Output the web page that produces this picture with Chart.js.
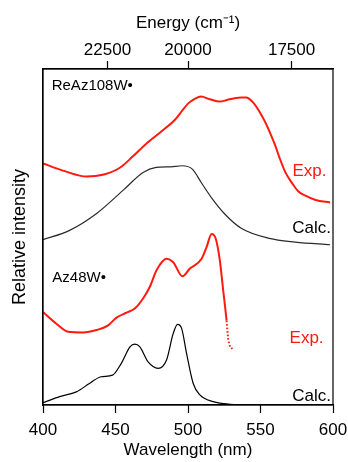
<!DOCTYPE html>
<html>
<head>
<meta charset="utf-8">
<script src="https://cdn.jsdelivr.net/npm/chart.js@4.4.1/dist/chart.umd.min.js"></script>
<style>
  html, body { margin:0; padding:0; background:#fff; }
  canvas { display:block; }
</style>
</head>
<body>
<canvas id="chart" width="348" height="462"></canvas>
<script>
// absorption spectra, exp vs calc, stacked with offsets
const FONT = "'Liberation Sans', Arial, sans-serif";

const wavelengthTicks = [400, 450, 500, 550, 600];
const energyTicks = [22500, 20000, 17500];

// ReAz108W (top pair)
const reExpX = [400, 415, 430, 442, 453, 462, 471, 481, 491, 496, 500, 505, 509, 515, 522, 527, 532, 537, 540, 545, 549, 553, 556, 560, 563, 567, 572, 576, 581, 588, 598];
const reExpY = [71.9, 69.6, 68.0, 68.6, 70.6, 74.0, 77.7, 81.2, 84.9, 87.6, 89.7, 91.2, 91.8, 91.0, 90.3, 90.8, 91.3, 91.5, 91.5, 90.0, 87.5, 84.4, 81.6, 77.4, 73.7, 69.4, 65.9, 63.6, 62.3, 61.0, 60.3];

const reCalcX = [400, 418, 437, 455, 469, 478, 488, 496, 503, 509, 516, 525, 537, 556, 574, 598];
const reCalcY = [49.2, 51.9, 57.0, 63.8, 69.2, 70.7, 70.9, 71.2, 70.2, 66.3, 61.8, 57.0, 52.5, 49.6, 48.5, 47.7];

// Az48W (bottom pair)
const azExpX = [400, 409.2, 417.3, 427.6, 436.9, 444.9, 450.7, 457.6, 463.3, 469, 473.7, 478.3, 485.2, 489.8, 496.2, 501.3, 509.4, 512.8, 516.3, 519.2, 522, 524.3, 526.6, 527.7, 530.8];
const azExpY = [27.7, 24.2, 21.8, 21.6, 22.3, 23.7, 26.0, 27.5, 28.7, 31.7, 35.2, 40.1, 43.5, 42.5, 38.3, 40.6, 43.5, 47.0, 50.9, 49.4, 42.9, 34.0, 25.1, 19.7, 16.4];
const azExpDottedFrom = 526.6;

const azCalcX = [400, 411.5, 423, 432, 440, 448, 454, 460, 463.3, 466.8, 472.5, 479.4, 485.2, 489.8, 492.8, 495.6, 499, 503.6, 508.2, 517.4, 529, 545, 600];
const azCalcY = [0.7, 2.5, 3.9, 6.4, 8.4, 8.9, 12.4, 17.3, 18.1, 17.3, 12.8, 10.9, 13.4, 21.3, 24.0, 22.8, 15.4, 6.4, 3.0, 1.0, 0.2, 0, 0];

const RED = "#ff1a0d";
const DARK = "#2b2b2b";

function pts(xs, ys){ return xs.map((x,i)=>({x, y: ys[i]})); }

// text annotations: [text, x (nm), y (intensity, cap centre), align, colour, size]
const notes = [
  ["ReAz108W\u2022", 406, 95.3, "left", "#000", 15],
  ["Exp.", 595.5, 70.0, "right", RED, 17],
  ["Calc.", 598.6, 53.0, "right", "#000", 17],
  ["Az48W\u2022", 406.4, 38.3, "left", "#000", 15],
  ["Exp.", 593.5, 20.3, "right", RED, 17],
  ["Calc.", 598.6, 3.1, "right", "#000", 17],
];

const notePlugin = {
  id: "notes",
  afterDatasetsDraw(chart){
    const {ctx, scales, chartArea: a} = chart;
    ctx.save();
    // frame round the plot
    ctx.strokeStyle = "#000";
    ctx.lineWidth = 1.2;
    ctx.strokeRect(a.left, a.top, a.right - a.left, a.bottom - a.top);
    ctx.textBaseline = "alphabetic";
    for (const [t, x, y, align, col, size] of notes){
      ctx.font = size + "px " + FONT;
      ctx.fillStyle = col;
      ctx.textAlign = align;
      ctx.fillText(t, scales.x.getPixelForValue(x), scales.y.getPixelForValue(y) + size * 0.358);
    }
    ctx.restore();
  }
};

// fixed axis bands so the plot box sits where the original has it
const fitBottom = ax => { ax.height = 57; ax.paddingLeft = 0; ax.paddingRight = 0; };
const fitTop = ax => { ax.height = 56; ax.paddingLeft = 0; ax.paddingRight = 0; };
const fitLeft = ax => { ax.width = 34; ax.paddingTop = 0; ax.paddingBottom = 0; };

Chart.defaults.font.family = FONT;
Chart.defaults.color = "#000";

new Chart(document.getElementById("chart"), {
  type: "line",
  data: {
    datasets: [
      { data: pts(reExpX, reExpY), borderColor: RED, borderWidth: 2 },
      { data: pts(reCalcX, reCalcY), borderColor: DARK, borderWidth: 1.2 },
      { data: pts(azExpX, azExpY), borderColor: RED, borderWidth: 2,
        segment: { borderDash: c => c.p0.parsed.x >= azExpDottedFrom ? [1.5, 2] : undefined } },
      { data: pts(azCalcX, azCalcY), borderColor: "#000", borderWidth: 1.2 },
    ]
  },
  options: {
    responsive: false,
    animation: false,
    layout: { padding: { left: 9, right: 15, top: 13, bottom: 0 } },
    elements: {
      point: { radius: 0 },
      line: { cubicInterpolationMode: "monotone", fill: false }
    },
    plugins: { legend: { display: false }, tooltip: { enabled: false } },
    scales: {
      x: {
        type: "linear", position: "bottom", min: 400, max: 600,
        afterBuildTicks: ax => { ax.ticks = wavelengthTicks.map(v => ({value: v})); },
        afterFit: fitBottom,
        ticks: { font: { size: 17 }, padding: 7, maxRotation: 0 },
        grid: { drawOnChartArea: false, tickLength: 8, color: "#000", tickWidth: 1.2 },
        border: { color: "#000", width: 1.2 },
        title: { display: true, text: "Wavelength (nm)", font: { size: 17 }, padding: { top: 0, bottom: 1 } }
      },
      x2: {
        type: "linear", position: "top", min: 400, max: 600,
        afterBuildTicks: ax => { ax.ticks = energyTicks.map(e => ({value: 1e7 / e})); },
        afterFit: fitTop,
        ticks: { font: { size: 17 }, padding: 0, maxRotation: 0,
          callback: v => String(Math.round(1e7 / v / 100) * 100) },
        grid: { drawOnChartArea: false, tickLength: 8, color: "#000", tickWidth: 1.2 },
        border: { color: "#000", width: 1.2 },
        title: { display: true, text: "Energy (cm\u207B\u00B9)", font: { size: 17 }, padding: { top: 0, bottom: 0 } }
      },
      y: {
        min: 0, max: 100,
        afterFit: fitLeft,
        ticks: { display: false },
        grid: { display: false },
        border: { color: "#000", width: 1.2 },
        title: { display: true, text: "Relative intensity", font: { size: 18 }, padding: { top: 0, bottom: 0 } }
      }
    }
  },
  plugins: [notePlugin]
});
</script>
</body>
</html>
